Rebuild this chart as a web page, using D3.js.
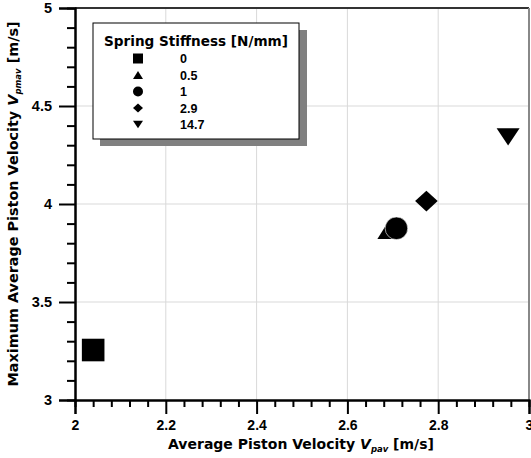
<!DOCTYPE html>
<html>
<head>
<meta charset="utf-8">
<script src="https://cdn.jsdelivr.net/npm/d3@7"></script>
<style>
  body { margin: 0; background: #fff; }
  svg { display: block; font-family: "Liberation Sans", Arial, sans-serif; }
  .wide { font-family: "DejaVu Sans", Verdana, sans-serif; }
</style>
</head>
<body>
<script>
// data
const stiffness = ["0", "0.5", "1", "2.9", "14.7"];
const vpav = [2.040, 2.691, 2.708, 2.774, 2.954];
const vpmav = [3.255, 3.868, 3.876, 4.015, 4.343];
const markers = ["square", "triangle", "circle", "diamond", "triangleDown"];

const xTicks = [2, 2.2, 2.4, 2.6, 2.8, 3];
const yTicks = [3, 3.5, 4, 4.5, 5];

const W = 531, H = 458;
const plot = { left: 75, right: 529, top: 8, bottom: 400 };

const svg = d3.select("body").append("svg").attr("width", W).attr("height", H);

const x = d3.scaleLinear().domain([2, 3]).range([plot.left, plot.right]);
const y = d3.scaleLinear().domain([3, 5]).range([plot.bottom, plot.top]);

// custom marker shapes, size = half width
const shapes = {
    square: { draw(c, r) { c.rect(-r, -r, 2 * r, 2 * r); } },
    circle: { draw(c, r) { c.moveTo(r, 0); c.arc(0, 0, r, 0, 2 * Math.PI); } },
    triangle: { draw(c, r) { c.moveTo(0, -r * 0.8); c.lineTo(r, r * 0.8); c.lineTo(-r, r * 0.8); c.closePath(); } },
    triangleDown: { draw(c, r) { c.moveTo(-r, -r * 0.75); c.lineTo(r, -r * 0.75); c.lineTo(0, r * 0.75); c.closePath(); } },
    diamond: { draw(c, r) { c.moveTo(0, -r * 0.92); c.lineTo(r, 0); c.lineTo(0, r * 0.92); c.lineTo(-r, 0); c.closePath(); } }
};
const markerPath = (name, r) => d3.symbol().type(shapes[name]).size(r)();

// grid
svg.append("g").selectAll("line")
    .data(xTicks.slice(1, -1))
    .enter().append("line")
    .attr("x1", d => x(d)).attr("x2", d => x(d))
    .attr("y1", plot.top).attr("y2", plot.bottom)
    .attr("stroke", "#d9d9d9").attr("stroke-width", 1);
svg.append("g").selectAll("line")
    .data(yTicks.slice(1, -1))
    .enter().append("line")
    .attr("x1", plot.left).attr("x2", plot.right)
    .attr("y1", d => y(d)).attr("y2", d => y(d))
    .attr("stroke", "#d9d9d9").attr("stroke-width", 1);

// frame top / right
svg.append("line").attr("x1", plot.left).attr("x2", plot.right)
    .attr("y1", plot.top).attr("y2", plot.top)
    .attr("stroke", "#333").attr("stroke-width", 2);
svg.append("line").attr("x1", plot.right).attr("x2", plot.right)
    .attr("y1", plot.top).attr("y2", plot.bottom)
    .attr("stroke", "#888").attr("stroke-width", 2);

// minor ticks
const xMinor = d3.range(2, 3.0001, 0.04).filter(v => !xTicks.some(t => Math.abs(t - v) < 1e-6));
const yMinor = d3.range(3, 5.0001, 0.1).filter(v => !yTicks.some(t => Math.abs(t - v) < 1e-6));

const gxMinor = svg.append("g").attr("transform", `translate(0,${plot.bottom})`)
    .call(d3.axisBottom(x).tickValues(xMinor).tickSize(7).tickFormat(""));
const gyMinor = svg.append("g").attr("transform", `translate(${plot.left},0)`)
    .call(d3.axisLeft(y).tickValues(yMinor).tickSize(8).tickFormat(""));

const gx = svg.append("g").attr("transform", `translate(0,${plot.bottom})`)
    .call(d3.axisBottom(x).tickValues(xTicks).tickSize(14).tickPadding(6).tickFormat(d3.format("")));
const gy = svg.append("g").attr("transform", `translate(${plot.left},0)`)
    .call(d3.axisLeft(y).tickValues(yTicks).tickSize(16).tickPadding(7).tickFormat(d3.format("")));

[gxMinor, gyMinor, gx, gy].forEach(g => {
    g.select(".domain").attr("stroke", "#000").attr("stroke-width", 2);
    g.selectAll(".tick line").attr("stroke", "#000").attr("stroke-width", 2);
});
gx.selectAll(".tick text").attr("font-size", 14).attr("font-weight", "bold").attr("fill", "#000")
    .attr("font-family", "Liberation Sans, Arial, sans-serif");
gy.selectAll(".tick text").attr("font-size", 14.5).attr("font-weight", "bold").attr("fill", "#000")
    .attr("font-family", "Liberation Sans, Arial, sans-serif");

// axis titles
const xt = svg.append("text").attr("class", "wide")
    .attr("x", 301).attr("y", 449)
    .attr("text-anchor", "middle")
    .attr("font-size", 14).attr("font-weight", "bold");
xt.append("tspan").text("Average Piston Velocity ");
xt.append("tspan").attr("font-style", "italic").text("V");
xt.append("tspan").attr("font-style", "italic").attr("font-size", 8.5).attr("dy", 3).text("pav");
xt.append("tspan").attr("dy", -3).text(" [m/s]");

const yt = svg.append("text").attr("class", "wide")
    .attr("transform", `translate(18,${(plot.top + plot.bottom) / 2}) rotate(-90)`)
    .attr("text-anchor", "middle")
    .attr("font-size", 14.4).attr("font-weight", "bold");
yt.append("tspan").text("Maximum Average Piston Velocity ");
yt.append("tspan").attr("font-style", "italic").text("V");
yt.append("tspan").attr("font-style", "italic").attr("font-size", 8.5).attr("dy", 3).text("pmav");
yt.append("tspan").attr("dy", -3).text(" [m/s]");

// points
svg.append("g").selectAll("path")
    .data(stiffness)
    .enter().append("path")
    .attr("transform", (d, i) => `translate(${x(vpav[i])},${y(vpmav[i])})`)
    .attr("d", (d, i) => markerPath(markers[i], markers[i] === "triangleDown" ? 11.5 : 11.3))
    .attr("fill", "#000")
    .attr("stroke", (d, i) => markers[i] === "circle" ? "#fff" : "none")
    .attr("stroke-width", 0.6);

// legend
const lg = svg.append("g");
lg.append("rect").attr("x", 100).attr("y", 30).attr("width", 207).attr("height", 116).attr("fill", "#808080");
lg.append("rect").attr("x", 93).attr("y", 23).attr("width", 206).attr("height", 116)
    .attr("fill", "#fff").attr("stroke", "#000").attr("stroke-width", 1);
lg.append("text").attr("class", "wide").attr("x", 196).attr("y", 46).attr("text-anchor", "middle")
    .attr("font-size", 13.6).attr("font-weight", "bold").text("Spring Stiffness [N/mm]");

const rowY = d3.scaleLinear().domain([0, 4]).range([58.5, 124.5]);
const rows = lg.selectAll(".row").data(stiffness).enter().append("g")
    .attr("transform", (d, i) => `translate(0,${rowY(i)})`);
rows.append("path")
    .attr("transform", "translate(138,0)")
    .attr("d", (d, i) => markerPath(markers[i], 5))
    .attr("fill", "#000");
rows.append("text").attr("x", 180).attr("y", 4.5)
    .attr("font-size", 12.5).attr("font-weight", "bold").text(d => d);
</script>
</body>
</html>
